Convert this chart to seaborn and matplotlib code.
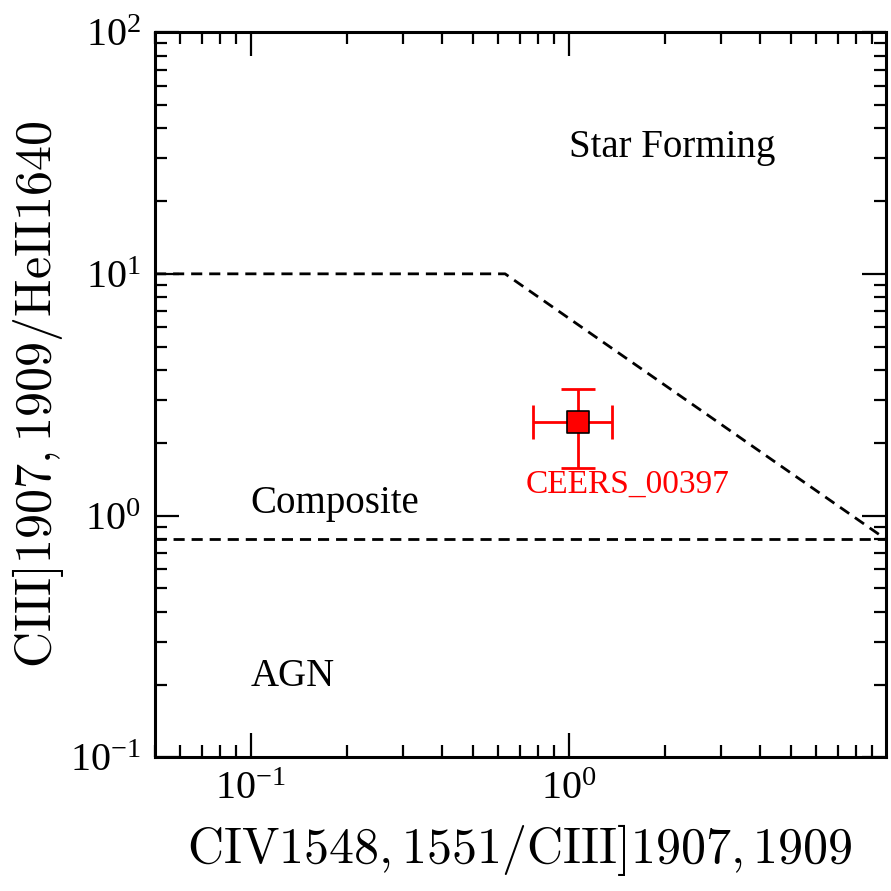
import matplotlib
matplotlib.use("Agg")
import matplotlib.pyplot as plt
import matplotlib.ticker as mticker
import seaborn as sns
import numpy as np
import pandas as pd

# boundary lines (Hirschmann-style UV diagnostic)
sf_x = [0.05, 0.63, 9.9]
sf_y = [10.0, 10.0, 0.8]
agn_x = [0.05, 9.9]
agn_y = [0.8, 0.8]

# measured object
obj_name = "CEERS_00397"
obj_x = 1.07
obj_y = 2.43
obj_xlo, obj_xhi = 0.77, 1.37
obj_ylo, obj_yhi = 1.57, 3.33

sns.set_theme(style="ticks")
plt.rcParams['font.family'] = ['Liberation Serif', 'DejaVu Serif']
plt.rcParams['mathtext.fontset'] = 'cm'
plt.rcParams['axes.unicode_minus'] = False
for k in ['text.color', 'axes.labelcolor', 'xtick.color', 'ytick.color', 'axes.edgecolor']:
    plt.rcParams[k] = 'black'

fig = plt.figure(figsize=(8.91, 8.91), dpi=100)
ax = fig.add_axes([0.174, 0.150, 0.820, 0.814])

sf_df = pd.DataFrame({"x": sf_x, "y": sf_y})
agn_df = pd.DataFrame({"x": agn_x, "y": agn_y})
sns.lineplot(data=sf_df, x="x", y="y", ax=ax, color="black", lw=2,
             linestyle=(0, (4, 2.5)), sort=False)
sns.lineplot(data=agn_df, x="x", y="y", ax=ax, color="black", lw=2,
             linestyle=(0, (4, 2.5)), sort=False)

ax.errorbar([obj_x], [obj_y],
            xerr=[[obj_x - obj_xlo], [obj_xhi - obj_x]],
            yerr=[[obj_y - obj_ylo], [obj_yhi - obj_y]],
            fmt='none', ecolor='red', elinewidth=2, capsize=12, capthick=2, zorder=3)
pt = pd.DataFrame({"x": [obj_x], "y": [obj_y]})
sns.scatterplot(data=pt, x="x", y="y", ax=ax, marker='s', s=260,
                color='red', edgecolor='black', linewidth=1.2, zorder=4)

ax.set_xscale('log')
ax.set_yscale('log')
ax.set_xlim(0.05, 9.9)
ax.set_ylim(0.1, 100)

ax.text(1.53, 1.35, obj_name, color='red', fontsize=24, ha='center', va='center')
ax.text(1.0, 33.3, "Star Forming", fontsize=28, ha='left', va='center')
ax.text(0.1, 1.12, "Composite", fontsize=28, ha='left', va='center')
ax.text(0.1, 0.217, "AGN", fontsize=28, ha='left', va='center')

fmt = mticker.FuncFormatter(lambda v, p: r'$\mathregular{10^{%d}}$' % round(np.log10(v)))
ax.xaxis.set_major_formatter(fmt)
ax.yaxis.set_major_formatter(fmt)
ax.xaxis.set_minor_formatter(mticker.NullFormatter())
ax.yaxis.set_minor_formatter(mticker.NullFormatter())
ax.xaxis.set_minor_locator(mticker.LogLocator(base=10, subs=np.arange(2, 10), numticks=20))
ax.yaxis.set_minor_locator(mticker.LogLocator(base=10, subs=np.arange(2, 10), numticks=20))

ax.tick_params(which='both', direction='in', top=True, right=True, labelsize=29, width=1.6)
ax.tick_params(which='major', length=17, pad=10)
ax.tick_params(which='minor', length=8.5)
for s in ax.spines.values():
    s.set_linewidth(2.2)

ax.set_xlabel(r'$\mathrm{CIV1548,1551/CIII]1907,1909}$', fontsize=36, math_fontfamily='cm', labelpad=10)
ax.set_ylabel(r'$\mathrm{CIII]1907,1909/HeII1640}$', fontsize=36, math_fontfamily='cm', labelpad=3)

fig.savefig("out.png", dpi=100)
